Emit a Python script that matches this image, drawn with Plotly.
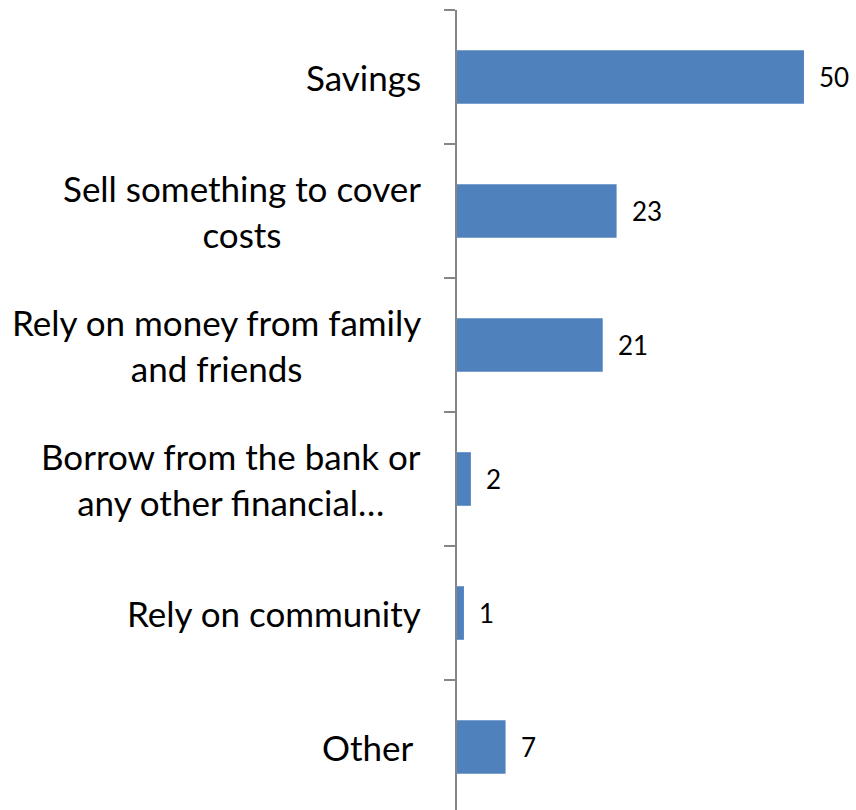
import plotly.graph_objects as go

categories = [
    "Savings",
    "Sell something to cover<br>costs",
    "Rely on money from family<br>and friends",
    "Borrow from the bank or<br>any other financial…",
    "Rely on community",
    "Other ",
]
values = [50, 23, 21, 2, 1, 7]

positions = list(range(len(categories)))
bar_color = "#4F81BD"
axis_color = "#868686"
font_family = "Lato, 'Open Sans', sans-serif"

fig = go.Figure(
    go.Bar(
        x=values,
        y=positions,
        orientation="h",
        width=0.4,
        marker=dict(color=bar_color, line=dict(width=0)),
        hoverinfo="skip",
    )
)

annotations = []
for pos, cat, val in zip(positions, categories, values):
    annotations.append(dict(
        x=0, y=pos, xref="x", yref="y", text=cat, showarrow=False,
        xanchor="right", yanchor="middle", align="center", xshift=-34,
        font=dict(family=font_family, size=35, color="#000000"),
    ))
    annotations.append(dict(
        x=val, y=pos, xref="x", yref="y", text=str(val), showarrow=False,
        xanchor="left", yanchor="middle", xshift=13,
        font=dict(family=font_family, size=26, color="#000000"),
    ))

boundaries = [p - 0.5 for p in positions]

fig.update_layout(
    width=856, height=810,
    margin=dict(l=457, r=0, t=10, b=0),
    paper_bgcolor="white", plot_bgcolor="white",
    showlegend=False,
    annotations=annotations,
    xaxis=dict(range=[0, 57.5], visible=False, fixedrange=True),
    yaxis=dict(
        range=[-0.5 + 800 / 134, -0.5],
        tickvals=boundaries, ticktext=["" for _ in boundaries],
        ticks="outside", ticklen=11, tickwidth=2, tickcolor=axis_color,
        showline=True, linecolor=axis_color, linewidth=2,
        showgrid=False, zeroline=False,
    ),
)

fig.write_html("out.html")
